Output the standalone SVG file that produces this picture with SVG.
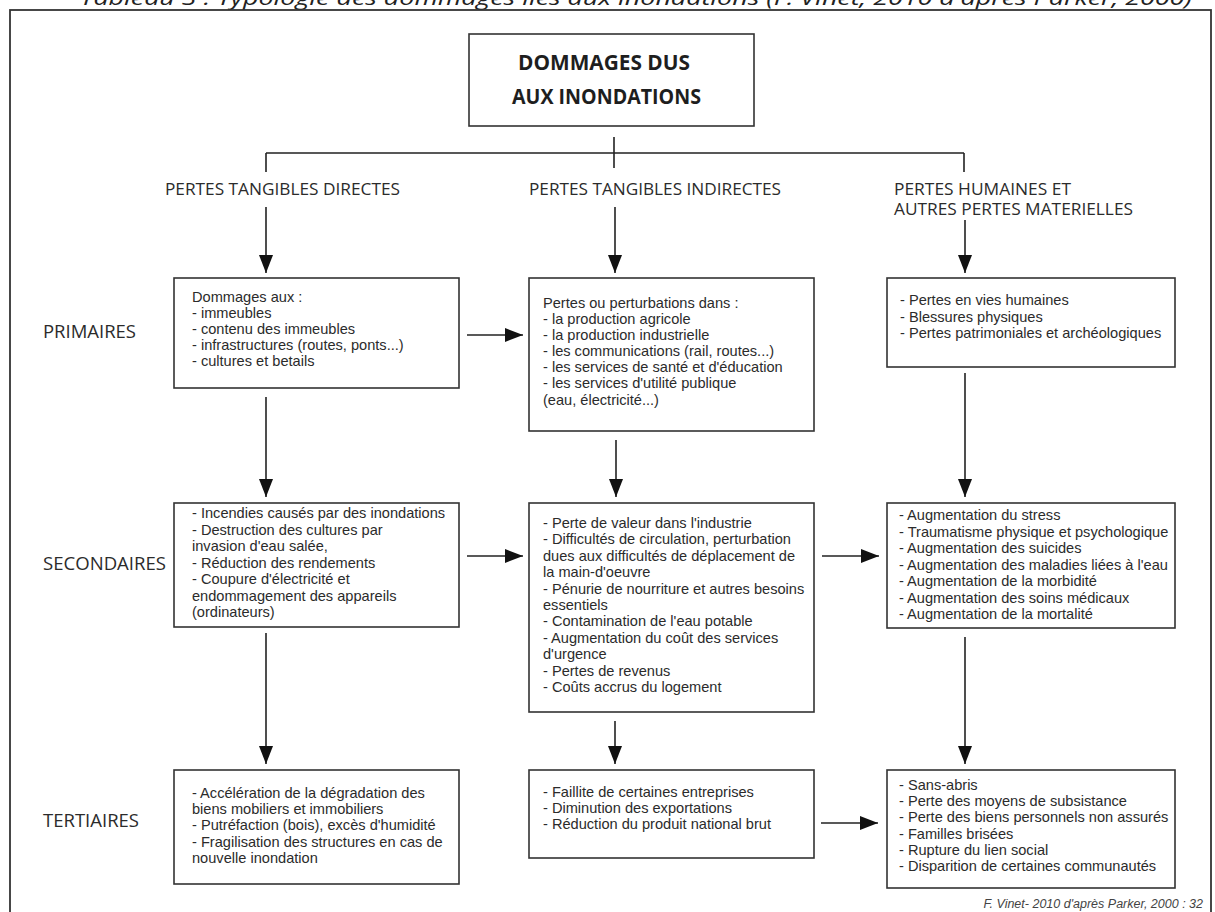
<svg xmlns="http://www.w3.org/2000/svg" width="1215" height="912" viewBox="0 0 1215 912">
<style>
.box{fill:#fff;stroke:#333;stroke-width:1.6}
.t{font-family:"Liberation Sans",Arial,sans-serif;font-size:14.6px;fill:#2b2b2b}
.h{font-family:"Open Sans","Liberation Sans",sans-serif;font-size:17px;fill:#2b2b2b}
.r{font-family:"Open Sans","Liberation Sans",sans-serif;font-size:18px;fill:#2b2b2b}
.ti{font-family:"Open Sans","Liberation Sans",sans-serif;font-size:21px;font-weight:bold;fill:#1e1e1e}
.c{stroke:#222;stroke-width:1.6;fill:none}
.a{stroke:#222;stroke-width:1.6;fill:none;marker-end:url(#ah)}
</style>
<defs>
<marker id="ah" markerUnits="userSpaceOnUse" markerWidth="18" markerHeight="14" refX="18" refY="7" orient="auto">
<path d="M0,0 L18,7 L0,14 z" fill="#111"/>
</marker>
</defs>
<rect width="1215" height="912" fill="#fff"/>
<text x="80" y="5" font-family="'Open Sans','Liberation Sans',sans-serif" font-style="italic" font-size="20" fill="#222" textLength="1112" lengthAdjust="spacingAndGlyphs">Tableau 3 : Typologie des dommages liés aux inondations (F. Vinet, 2010 d'après Parker, 2000)</text>
<rect x="10" y="10" width="1201" height="910" fill="none" stroke="#333" stroke-width="1.8"/>

<g id="connectors">
<path class="c" d="M614,137 V168 M266,153 H964 M266,153 V172 M964,153 V172"/>
<path class="a" d="M266,207 V273"/>
<path class="a" d="M615,207 V273"/>
<path class="a" d="M965,220 V273"/>
<path class="a" d="M467,335 H523"/>
<path class="a" d="M266,397 V497"/>
<path class="a" d="M616,440 V497"/>
<path class="a" d="M965,373 V497"/>
<path class="a" d="M467,556 H523"/>
<path class="a" d="M822,556 H879"/>
<path class="a" d="M266,633 V764"/>
<path class="a" d="M615,721 V764"/>
<path class="a" d="M965,637 V764"/>
<path class="a" d="M821,823 H878"/>
</g>

<g id="title">
<rect class="box" x="469" y="34" width="285" height="92"/>
<text class="ti" x="518" y="70" textLength="172" lengthAdjust="spacingAndGlyphs">DOMMAGES DUS</text>
<text class="ti" x="512" y="104" textLength="189" lengthAdjust="spacingAndGlyphs">AUX INONDATIONS</text>
</g>

<g id="heading-directes"><text class="h" x="165" y="195" textLength="235" lengthAdjust="spacingAndGlyphs">PERTES TANGIBLES DIRECTES</text></g>
<g id="heading-indirectes"><text class="h" x="529" y="195" textLength="252" lengthAdjust="spacingAndGlyphs">PERTES TANGIBLES INDIRECTES</text></g>
<g id="heading-humaines">
<text class="h" x="894" y="195" textLength="177" lengthAdjust="spacingAndGlyphs">PERTES HUMAINES ET</text>
<text class="h" x="894" y="215" textLength="239" lengthAdjust="spacingAndGlyphs">AUTRES PERTES MATERIELLES</text>
</g>

<g id="label-primaires"><text class="r" x="43" y="338" textLength="93" lengthAdjust="spacingAndGlyphs">PRIMAIRES</text></g>
<g id="label-secondaires"><text class="r" x="43" y="570" textLength="123" lengthAdjust="spacingAndGlyphs">SECONDAIRES</text></g>
<g id="label-tertiaires"><text class="r" x="43" y="827" textLength="96" lengthAdjust="spacingAndGlyphs">TERTIAIRES</text></g>

<g id="direct-primaires">
<rect class="box" x="174" y="278" width="285" height="110"/>
<text class="t" x="192" y="302">Dommages aux :</text>
<text class="t" x="192" y="318">- immeubles</text>
<text class="t" x="192" y="334">- contenu des immeubles</text>
<text class="t" x="192" y="350">- infrastructures (routes, ponts...)</text>
<text class="t" x="192" y="366">- cultures et betails</text>
</g>

<g id="indirect-primaires">
<rect class="box" x="529" y="278" width="285" height="153"/>
<text class="t" x="543" y="308">Pertes ou perturbations dans :</text>
<text class="t" x="543" y="324">- la production agricole</text>
<text class="t" x="543" y="340">- la production industrielle</text>
<text class="t" x="543" y="356">- les communications (rail, routes...)</text>
<text class="t" x="543" y="372">- les services de santé et d'éducation</text>
<text class="t" x="543" y="388">- les services d'utilité publique</text>
<text class="t" x="543" y="405">(eau, électricité...)</text>
</g>

<g id="humaines-primaires">
<rect class="box" x="887" y="278" width="288" height="89"/>
<text class="t" x="900" y="305">- Pertes en vies humaines</text>
<text class="t" x="900" y="322">- Blessures physiques</text>
<text class="t" x="900" y="338">- Pertes patrimoniales et archéologiques</text>
</g>

<g id="direct-secondaires">
<rect class="box" x="174" y="503" width="285" height="124"/>
<text class="t" x="192" y="518">- Incendies causés par des inondations</text>
<text class="t" x="192" y="534.5">- Destruction des cultures par</text>
<text class="t" x="192" y="551">invasion d'eau salée,</text>
<text class="t" x="192" y="567.5">- Réduction des rendements</text>
<text class="t" x="192" y="584">- Coupure d'électricité et</text>
<text class="t" x="192" y="600.5">endommagement des appareils</text>
<text class="t" x="192" y="617">(ordinateurs)</text>
</g>

<g id="indirect-secondaires">
<rect class="box" x="529" y="503" width="285" height="209"/>
<text class="t" x="543" y="528">- Perte de valeur dans l'industrie</text>
<text class="t" x="543" y="544.4">- Difficultés de circulation, perturbation</text>
<text class="t" x="543" y="560.8">dues aux difficultés de déplacement de</text>
<text class="t" x="543" y="577.2">la main-d'oeuvre</text>
<text class="t" x="543" y="593.6">- Pénurie de nourriture et autres besoins</text>
<text class="t" x="543" y="610">essentiels</text>
<text class="t" x="543" y="626.4">- Contamination de l'eau potable</text>
<text class="t" x="543" y="642.8">- Augmentation du coût des services</text>
<text class="t" x="543" y="659.2">d'urgence</text>
<text class="t" x="543" y="675.6">- Pertes de revenus</text>
<text class="t" x="543" y="692">- Coûts accrus du logement</text>
</g>

<g id="humaines-secondaires">
<rect class="box" x="887" y="503" width="288" height="125"/>
<text class="t" x="899" y="520">- Augmentation du stress</text>
<text class="t" x="899" y="536.5">- Traumatisme physique et psychologique</text>
<text class="t" x="899" y="553">- Augmentation des suicides</text>
<text class="t" x="899" y="569.5">- Augmentation des maladies liées à l'eau</text>
<text class="t" x="899" y="586">- Augmentation de la morbidité</text>
<text class="t" x="899" y="602.5">- Augmentation des soins médicaux</text>
<text class="t" x="899" y="619">- Augmentation de la mortalité</text>
</g>

<g id="direct-tertiaires">
<rect class="box" x="174" y="770" width="285" height="114"/>
<text class="t" x="192" y="798">- Accélération de la dégradation des</text>
<text class="t" x="192" y="814.2">biens mobiliers et immobiliers</text>
<text class="t" x="192" y="830.4">- Putréfaction (bois), excès d'humidité</text>
<text class="t" x="192" y="846.6">- Fragilisation des structures en cas de</text>
<text class="t" x="192" y="862.8">nouvelle inondation</text>
</g>

<g id="indirect-tertiaires">
<rect class="box" x="529" y="770" width="285" height="88"/>
<text class="t" x="543" y="797">- Faillite de certaines entreprises</text>
<text class="t" x="543" y="813">- Diminution des exportations</text>
<text class="t" x="543" y="829">- Réduction du produit national brut</text>
</g>

<g id="humaines-tertiaires">
<rect class="box" x="887" y="770" width="288" height="118"/>
<text class="t" x="899" y="790">- Sans-abris</text>
<text class="t" x="899" y="806.2">- Perte des moyens de subsistance</text>
<text class="t" x="899" y="822.4">- Perte des biens personnels non assurés</text>
<text class="t" x="899" y="838.6">- Familles brisées</text>
<text class="t" x="899" y="854.8">- Rupture du lien social</text>
<text class="t" x="899" y="871">- Disparition de certaines communautés</text>
</g>

<text x="1203" y="908" text-anchor="end" font-family="'Liberation Sans',Arial,sans-serif" font-style="italic" font-size="12.5" fill="#444">F. Vinet- 2010 d'après Parker, 2000 : 32</text>
</svg>
